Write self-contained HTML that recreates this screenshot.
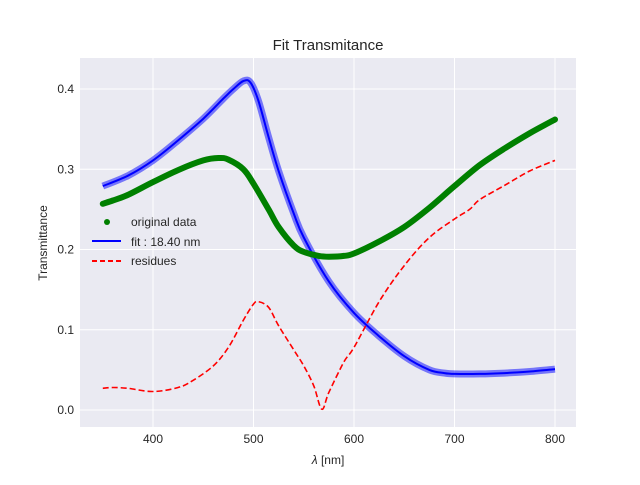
<!DOCTYPE html>
<html><head><meta charset="utf-8"><style>
body{margin:0;background:#fff;font-family:"Liberation Sans","DejaVu Sans",sans-serif}
svg text{font-family:"Liberation Sans","DejaVu Sans",sans-serif;fill:#262626}
</style></head><body>
<svg id="chart" width="640" height="480">
<rect x="80" y="58" width="496" height="369" fill="#EAEAF2"/>
<g id="grid"></g>
<g id="series"></g>
<g id="ticks"></g>
<text x="328" y="50" text-anchor="middle" font-size="15">Fit Transmitance</text>
<text x="328" y="464" text-anchor="middle" font-size="12"><tspan font-style="italic">λ</tspan> [nm]</text>
<text transform="translate(47,243) rotate(-90)" text-anchor="middle" font-size="12">Transmittance</text>
<g>
<g><circle cx="107" cy="222" r="3" fill="green"/><text x="131" y="226" font-size="12">original data</text></g>
<g><line x1="92" y1="241" x2="121" y2="241" stroke="blue" stroke-width="2"/><text x="131" y="246" font-size="12">fit : 18.40 nm</text></g>
<g><line x1="92" y1="261" x2="121" y2="261" stroke="red" stroke-width="2" stroke-dasharray="5,3"/><text x="131" y="265" font-size="12">residues</text></g>
</g>
</svg>
<script>
const xTicks=[400,500,600,700,800];
const yTicks=[0.0,0.1,0.2,0.3,0.4];
const dataX=[350,360,375,400,425,450,465,475,490,500,515,525,540,550,565,575,590,600,625,650,675,700,725,750,775,800];
const dataY=[0.257,0.261,0.268,0.284,0.299,0.311,0.314,0.312,0.300,0.282,0.250,0.228,0.205,0.197,0.192,0.191,0.192,0.195,0.210,0.228,0.252,0.279,0.305,0.326,0.345,0.362];
const fitX=[350,375,400,425,450,470,480,490,497,505,515,525,540,550,575,600,625,650,675,690,700,725,750,775,800];
const fitY=[0.279,0.292,0.311,0.336,0.363,0.388,0.400,0.410,0.408,0.385,0.340,0.298,0.245,0.215,0.160,0.121,0.092,0.067,0.050,0.046,0.045,0.045,0.046,0.048,0.051];
const resX=[350,360,375,400,425,440,460,475,490,500,505,515,525,540,550,560,568,575,590,600,625,650,675,700,715,725,750,775,800];
const resY=[0.027,0.028,0.027,0.023,0.028,0.037,0.055,0.078,0.112,0.132,0.135,0.128,0.105,0.075,0.055,0.030,0.001,0.022,0.060,0.078,0.135,0.180,0.215,0.238,0.250,0.262,0.280,0.298,0.311];
const sx=v=>153+(v-400)*1.005;
const sy=v=>410-v*802.5;
const NS="http://www.w3.org/2000/svg";
function mk(t,a,p){const e=document.createElementNS(NS,t);for(const k in a)e.setAttribute(k,a[k]);p.appendChild(e);return e;}
const g=document.getElementById('grid'),tk=document.getElementById('ticks'),s=document.getElementById('series');
xTicks.forEach(v=>{const l=mk('line',{x1:sx(v),x2:sx(v),y1:58,y2:427,stroke:'#fff','stroke-width':1},g);


const t=mk('text',{x:sx(v),y:443,'text-anchor':'middle','font-size':12},tk);t.textContent=v;

});
yTicks.forEach(v=>{const l=mk('line',{x1:80,x2:576,y1:sy(v),y2:sy(v),stroke:'#fff','stroke-width':1},g);


const t=mk('text',{x:74,y:sy(v)+4,'text-anchor':'end','font-size':12},tk);t.textContent=v.toFixed(1);

});
function path(xs,ys){
  const P=xs.map((x,i)=>[sx(x),sy(ys[i])]);
  let d='M'+P[0][0].toFixed(1)+','+P[0][1].toFixed(1);
  for(let i=0;i<P.length-1;i++){
    const p0=P[Math.max(0,i-1)],p1=P[i],p2=P[i+1],p3=P[Math.min(P.length-1,i+2)];
    const c1=[p1[0]+(p2[0]-p0[0])/6,p1[1]+(p2[1]-p0[1])/6];
    const c2=[p2[0]-(p3[0]-p1[0])/6,p2[1]-(p3[1]-p1[1])/6];
    d+=' C'+c1[0].toFixed(1)+','+c1[1].toFixed(1)+' '+c2[0].toFixed(1)+','+c2[1].toFixed(1)+' '+p2[0].toFixed(1)+','+p2[1].toFixed(1);
  }
  return d;}
const band=mk('path',{d:path(fitX,fitY),fill:'none',stroke:'blue','stroke-opacity':0.5,'stroke-width':7,'stroke-linejoin':'round'},s);


const fit=mk('path',{d:path(fitX,fitY),fill:'none',stroke:'blue','stroke-width':2,'stroke-linejoin':'round'},s);


const dat=mk('path',{d:path(dataX,dataY),fill:'none',stroke:'green','stroke-width':6,'stroke-linejoin':'round','stroke-linecap':'round'},s);


const res=mk('path',{d:path(resX,resY),fill:'none',stroke:'red','stroke-width':1.6,'stroke-dasharray':'6,3'},s);


</script>
</body></html>
